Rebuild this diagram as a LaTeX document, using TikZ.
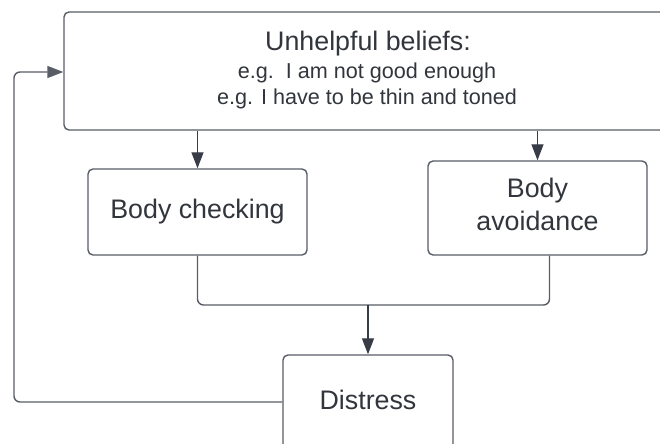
\documentclass[tikz,border=0pt]{standalone}
\usepackage{fontspec}
\setmainfont{Liberation Sans}
\usetikzlibrary{arrows.meta}
\definecolor{boxline}{RGB}{88,93,102}
\definecolor{arrowcol}{RGB}{55,60,70}
\definecolor{textcol}{RGB}{50,54,60}

\begin{document}
\begin{tikzpicture}[x=0.5pt, y=-0.5pt, line join=round,
>={Triangle[length=8pt,width=6pt]},
box/.style={draw=boxline, line width=0.7pt, rounded corners=2.5pt, fill=white,
  text=textcol, align=center, inner sep=0pt, font=\fontsize{13.4}{16.5}\selectfont},
link/.style={draw=boxline, line width=0.7pt, rounded corners=3pt},
]
\useasboundingbox (0,0) rectangle (660,444);

\node[box, minimum width=304pt, minimum height=59pt] (beliefs) at (368,71) {};
\node[textcol, font=\fontsize{13.4}{16}\selectfont] (title) at (368,44) {Unhelpful beliefs:};
\node[textcol, align=center, font=\fontsize{10.8}{13}\selectfont] (examples) at (367,86)
  {e.g.\ \ I am not good enough\\ e.g. I have to be thin and toned};

\node[box, minimum width=109.5pt, minimum height=43pt] (checking) at (197.5,212) {Body checking};
\node[box, minimum width=109.5pt, minimum height=47pt] (avoidance) at (537.5,208) {};
\node[textcol, align=center, font=\fontsize{13.4}{16.5}\selectfont] (avoidtext) at (537.5,204.5) {Body\\ avoidance};
\node[box, minimum width=85pt, minimum height=48pt] (distress) at (368,403) {};
\node[textcol, font=\fontsize{13.4}{16}\selectfont] (distext) at (368,400) {Distress};

\coordinate (merge) at (368,305);
\coordinate (loop) at (14,72);

\draw[link, ->, arrowcol] (checking.north |- beliefs.south) -- (checking.north);
\draw[link, ->, arrowcol] (avoidance.north |- beliefs.south) -- (avoidance.north);
\draw[link] (checking.south) |- (merge);
\draw[link] ([xshift=6pt]avoidance.south) |- (merge);
\draw[link, ->, arrowcol] (merge) -- (distress.north);
\draw[link, ->] (distress.west |- 0,402) -| (loop) -- (beliefs.west |- loop);
\end{tikzpicture}
\end{document}
